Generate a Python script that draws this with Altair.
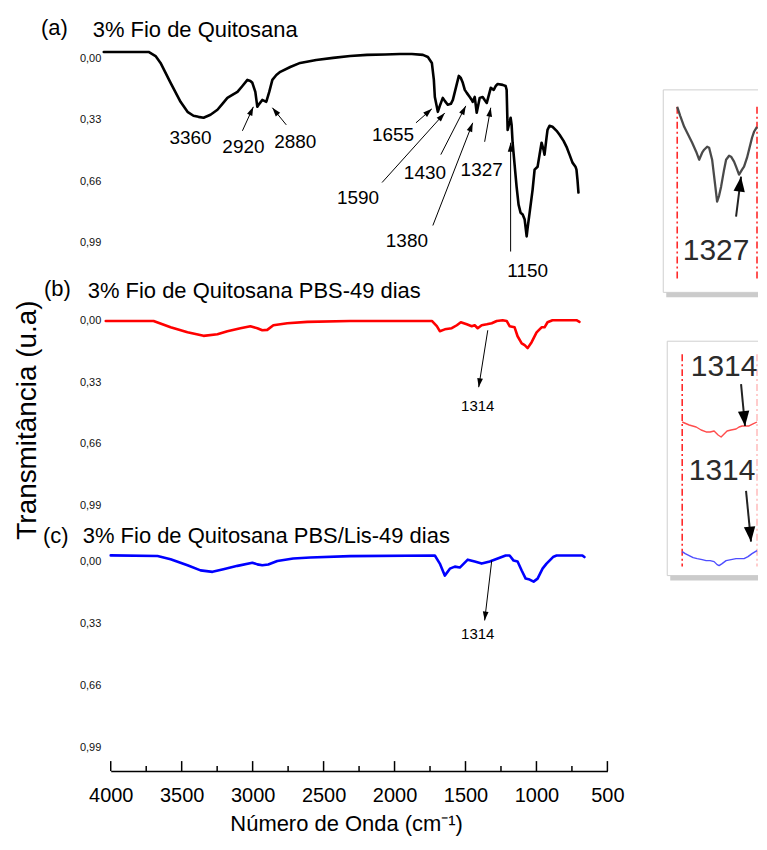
import math
import altair as alt
import pandas as pd

# ---------------- data ----------------
X_TICKS = [4000, 3500, 3000, 2500, 2000, 1500, 1000, 500]
X_MINOR = [3750, 3250, 2750, 2250, 1750, 1250, 750]
Y_TICKS = [0.0, 0.33, 0.66, 0.99]

# (a) 3% Fio de Quitosana
a_wn = [4049, 3733, 3684, 3649, 3578, 3508, 3459, 3417, 3382, 3346,
        3297, 3248, 3213, 3178, 3143, 3107, 3072, 3037, 3016, 3002,
        2981, 2967, 2953, 2932, 2918, 2904, 2883, 2861, 2833, 2805,
        2735, 2665, 2552, 2433, 2313, 2194, 2067, 1962, 1878, 1800,
        1765, 1737, 1723, 1716, 1702, 1695, 1681, 1660, 1646, 1625,
        1603, 1589, 1568, 1547, 1533, 1519, 1505, 1491, 1470, 1456,
        1449, 1435, 1421, 1400, 1379, 1365, 1350, 1322, 1301, 1287,
        1273, 1238, 1217, 1210, 1203, 1189, 1182, 1175, 1168, 1154,
        1140, 1126, 1112, 1097, 1083, 1069, 1062, 1048, 1027, 1013,
        992, 978, 964, 950, 943, 929, 922, 908, 887, 858,
        837, 809, 788, 767, 746, 725, 718, 711, 704]
a_tr = [-0.034, -0.034, -0.012, 0.025, 0.132, 0.234, 0.288, 0.309, 0.315, 0.320,
        0.304, 0.277, 0.245, 0.213, 0.197, 0.181, 0.149, 0.116, 0.122, 0.132,
        0.181, 0.261, 0.245, 0.224, 0.229, 0.234, 0.181, 0.116, 0.090, 0.073,
        0.047, 0.025, 0.009, -0.002, -0.012, -0.018, -0.020, -0.023, -0.023, -0.018,
        -0.007, 0.025, 0.116, 0.208, 0.261, 0.288, 0.256, 0.213, 0.229, 0.250,
        0.245, 0.224, 0.159, 0.095, 0.106, 0.132, 0.170, 0.186, 0.208, 0.224,
        0.234, 0.208, 0.293, 0.213, 0.208, 0.224, 0.240, 0.159, 0.170, 0.149,
        0.138, 0.143, 0.149, 0.170, 0.385, 0.342, 0.320, 0.358, 0.454, 0.572,
        0.690, 0.787, 0.830, 0.840, 0.867, 0.958, 0.910, 0.830, 0.706, 0.599,
        0.583, 0.518, 0.454, 0.492, 0.518, 0.427, 0.385, 0.363, 0.368, 0.390,
        0.411, 0.444, 0.476, 0.518, 0.561, 0.583, 0.599, 0.653, 0.722]

a_lab = ["3360", "2920", "2880", "1655", "1590", "1430", "1380", "1327", "1150"]
a_lab_wn = [3438, 3065, 2700, 2011, 2257, 1786, 1913, 1386, 1062]
a_lab_tr = [0.427, 0.476, 0.449, 0.411, 0.749, 0.615, 0.985, 0.599, 1.146]
a_from_wn = [3072, 2763, 1849, 2088, 1674, 1730, 1365, 1182]
a_from_tr = [0.390, 0.358, 0.347, 0.668, 0.518, 0.899, 0.449, 1.039]
a_to_wn = [2995, 2861, 1737, 1646, 1498, 1449, 1322, 1182]
a_to_tr = [0.261, 0.266, 0.272, 0.294, 0.256, 0.347, 0.266, 0.454]

# (b) 3% Fio de Quitosana PBS-49 dias
b_wn = [4035, 3698, 3578, 3459, 3346, 3248, 3178, 3086, 3016, 2967,
        2932, 2897, 2854, 2756, 2615, 2313, 1737, 1702, 1681, 1646,
        1597, 1561, 1533, 1491, 1456, 1435, 1414, 1386, 1350, 1315,
        1280, 1238, 1210, 1189, 1154, 1133, 1104, 1083, 1062, 1034,
        999, 964, 943, 922, 887, 718, 697]
b_tr = [0.0, 0.0, 0.034, 0.061, 0.080, 0.071, 0.055, 0.039, 0.028, 0.039,
        0.050, 0.048, 0.023, 0.012, 0.005, 0.0, 0.0, 0.028, 0.055, 0.045,
        0.039, 0.023, 0.007, 0.018, 0.028, 0.023, 0.039, 0.023, 0.018, 0.012,
        0.0, -0.004, 0.0, 0.028, 0.034, 0.082, 0.120, 0.130, 0.146, 0.114,
        0.061, 0.034, 0.034, 0.007, -0.004, -0.004, 0.005]
b_lab = ["1314"]
b_lab_wn = [1414]
b_lab_tr = [0.457]
b_from_wn = [1343]
b_from_tr = [0.050]
b_to_wn = [1407]
b_to_tr = [0.356]

# (c) 3% Fio de Quitosana PBS/Lis-49 dias
c_wn = [4000, 3670, 3578, 3459, 3367, 3283, 3206, 3107, 3002, 2967,
        2932, 2890, 2826, 2714, 2594, 2313, 1716, 1681, 1646, 1610,
        1575, 1540, 1484, 1435, 1386, 1329, 1273, 1217, 1189, 1161,
        1133, 1104, 1076, 1048, 1020, 992, 957, 929, 908, 880,
        858, 676, 662]
c_tr = [-0.035, -0.032, -0.014, 0.018, 0.045, 0.053, 0.039, 0.021, 0.004, 0.013,
        0.018, 0.014, -0.005, -0.018, -0.024, -0.031, -0.034, 0.009, 0.073, 0.036,
        0.025, 0.030, -0.012, -0.002, 0.009, -0.002, -0.018, -0.034, -0.034, -0.007,
        -0.002, 0.046, 0.089, 0.094, 0.105, 0.089, 0.036, 0.009, -0.007, -0.028,
        -0.034, -0.034, -0.026]
c_lab = ["1314"]
c_lab_wn = [1414]
c_lab_tr = [0.387]
c_from_wn = [1315]
c_from_tr = [-0.007]
c_to_wn = [1365]
c_to_tr = [0.312]

# insets (zoomed pictures on the right), in inset units
ins_frame_x1 = [554, 558]
ins_frame_x2 = [649, 649]
ins_frame_y1 = [50, 302]
ins_frame_y2 = [253, 537]

ins_grey_x = [568, 571, 575, 579, 583, 587, 590, 593, 595, 598, 600, 603, 606, 608, 610,
              612, 615, 617, 620, 622, 625, 627, 630, 633, 635, 638, 640, 643, 645, 648]
ins_grey_y = [67, 76, 87, 95, 103, 112, 120, 113, 110, 107, 108, 120, 145, 162, 156,
              147, 130, 120, 116, 117, 122, 127, 135, 130, 127, 118, 110, 98, 92, 87]
ins_red_x = [573, 580, 587, 592, 597, 601, 605, 609, 612, 615, 618, 622, 627, 630, 633,
             637, 640, 644, 648]
ins_red_y = [383, 386, 388, 391, 393, 393, 392, 396, 398, 395, 392, 391, 390, 388,
             387, 387, 387, 385, 383]
ins_blue_x = [573, 576, 580, 584, 588, 593, 597, 601, 605, 608, 610, 613, 617, 622, 627,
              631, 635, 639, 643, 648]
ins_blue_y = [513, 515, 517, 519, 520, 521, 522, 522, 523, 526, 527, 525, 522, 521,
              520, 520, 520, 518, 515, 512]
ins_dash_x = [568, 648, 573, 648]
ins_dash_y1 = [67, 67, 315, 315]
ins_dash_y2 = [242, 242, 528, 528]
ins_dash_op = [1.0, 1.0, 1.0, 0.3]
ins_txt = ["1327", "1314", "1314"]
ins_txt_x = [607, 615, 613]
ins_txt_y = [212, 328, 432]
ins_from_x = [627, 632, 637]
ins_from_y = [177, 345, 452]
ins_to_x = [632, 636, 642]
ins_to_y = [137, 387, 503]

# ---------------- layout / style ----------------
FONT = "Liberation Sans"
PW = 498
X_DOMAIN = [4000, 500]
A_H, A_DOM = 245, [-0.0981, 1.2155]
B_H, B_DOM = 245, [-0.1968, 1.1169]
C_H, C_DOM = 243, [-0.1771, 1.1154]
ARROW = "M0,0 L-0.32,1 L0.32,1 Z"
BIG_ARROW = "M0,0 L-0.38,1 L0.38,1 Z"


def head_angles(fx, fy, tx, ty, kx, ky):
    out = []
    for x0, y0, x1, y1 in zip(fx, fy, tx, ty):
        dx = (x1 - x0) * kx
        dy = (y1 - y0) * ky
        out.append(math.degrees(math.atan2(dx, -dy)) % 360)
    return out


def y_axis():
    return alt.Axis(values=Y_TICKS,
                    labelExpr="replace(format(datum.value, '.2f'), '.', ',')",
                    ticks=False, domain=False, grid=False, labelFontSize=11,
                    labelPadding=10, labelColor="#111", title=None)


def x_axis():
    return alt.Axis(values=X_TICKS, format="d", ticks=False, domain=True,
                    domainColor="#000", domainWidth=1.5, labelFontSize=20,
                    labelPadding=15, labelFlush=False, labelColor="#000",
                    grid=False, title="Número de Onda (cm⁻¹)", titleFontSize=22,
                    titleFontWeight="normal", titleColor="#000", titlePadding=8,
                    titleX=236)


def xenc(field, xs, show_x, first=False):
    if first:
        return alt.X(field, scale=xs, axis=x_axis() if show_x else None)
    if show_x:
        return alt.X(field, scale=xs)
    return alt.X(field, scale=xs, axis=None)


def panel(wn, tr, color, dom, h, lab, lab_wn, lab_tr, lab_size,
          fwn, ftr, twn, ttr, letter, title, tpos, show_x=False, extra=None):
    xs = alt.Scale(domain=X_DOMAIN, nice=False, zero=False)
    ys = alt.Scale(domain=dom, reverse=True, nice=False, zero=False)
    line_df = pd.DataFrame({"wn": wn, "tr": tr, "i": list(range(len(wn)))})
    line = alt.Chart(line_df).mark_line(
        color=color, strokeWidth=2.6, strokeJoin="round", strokeCap="round"
    ).encode(
        x=xenc("wn:Q", xs, show_x, first=True),
        y=alt.Y("tr:Q", scale=ys, axis=y_axis()),
        order="i:Q",
    )
    kx = -PW / 3500.0
    ky = h / (dom[1] - dom[0])
    arr_df = pd.DataFrame({"fw": fwn, "ft": ftr, "tw": twn, "tt": ttr,
                           "ang": head_angles(fwn, ftr, twn, ttr, kx, ky)})
    shaft = alt.Chart(arr_df).mark_rule(color="#000", strokeWidth=1).encode(
        x=xenc("fw:Q", xs, show_x), x2="tw:Q",
        y=alt.Y("ft:Q", scale=ys), y2="tt:Q")
    heads = alt.Chart(arr_df).mark_point(
        shape=ARROW, filled=True, size=320, color="#000", opacity=1
    ).encode(
        x=xenc("tw:Q", xs, show_x),
        y=alt.Y("tt:Q", scale=ys),
        angle=alt.Angle("ang:Q", scale=None))
    lab_df = pd.DataFrame({"w": lab_wn, "t": lab_tr, "s": lab})
    labels = alt.Chart(lab_df).mark_text(
        fontSize=lab_size, color="#000", baseline="middle", align="center"
    ).encode(x=xenc("w:Q", xs, show_x),
             y=alt.Y("t:Q", scale=ys), text="s:N")
    t_df = pd.DataFrame({"s": [letter]})
    t1 = alt.Chart(t_df).mark_text(
        fontSize=22, align="left", baseline="middle", color="#000"
    ).encode(x=alt.value(tpos[0]), y=alt.value(tpos[1]), text="s:N")
    t2_df = pd.DataFrame({"s": [title]})
    t2 = alt.Chart(t2_df).mark_text(
        fontSize=22, align="left", baseline="middle", color="#000"
    ).encode(x=alt.value(tpos[2]), y=alt.value(tpos[3]), text="s:N")
    layers = [line, shaft, heads, labels, t1, t2]
    if extra:
        layers += extra
    return alt.layer(*layers)


# ---------------- insets (own scales, drawn at the right of panel a) ----------------
ixs = alt.Scale(domain=[0, PW], nice=False, zero=False)
iys = alt.Scale(domain=[0, A_H], reverse=True, nice=False, zero=False)
fr = pd.DataFrame({"x1": ins_frame_x1, "x2": ins_frame_x2,
                   "y1": ins_frame_y1, "y2": ins_frame_y2})
fr_sh = pd.DataFrame({"x1": [v + 3 for v in ins_frame_x1], "x2": ins_frame_x2,
                      "y1": [v + 4 for v in ins_frame_y1],
                      "y2": [v + 5 for v in ins_frame_y2]})
shadow = alt.Chart(fr_sh).mark_rect(fill="#8c8c8c", opacity=0.45).encode(
    x=alt.X("x1:Q", scale=ixs, axis=None), x2="x2:Q",
    y=alt.Y("y1:Q", scale=iys, axis=None), y2="y2:Q")
frame = alt.Chart(fr).mark_rect(fill="#ffffff").encode(
    x=alt.X("x1:Q", scale=ixs, axis=None), x2="x2:Q",
    y=alt.Y("y1:Q", scale=iys, axis=None), y2="y2:Q")
border_df = pd.DataFrame({
    "x1": ins_frame_x1 + ins_frame_x1 + ins_frame_x1,
    "x2": ins_frame_x1 + ins_frame_x2 + ins_frame_x2,
    "y1": ins_frame_y1 + ins_frame_y1 + ins_frame_y2,
    "y2": ins_frame_y2 + ins_frame_y1 + ins_frame_y2})
border = alt.Chart(border_df).mark_rule(color="#cfcfcf", strokeWidth=1).encode(
    x=alt.X("x1:Q", scale=ixs, axis=None), x2="x2:Q",
    y=alt.Y("y1:Q", scale=iys, axis=None), y2="y2:Q")
dash = alt.Chart(pd.DataFrame({"x": ins_dash_x, "y1": ins_dash_y1,
                               "y2": ins_dash_y2, "o": ins_dash_op})).mark_rule(
    color="#ff2a2a", strokeWidth=1.6, strokeDash=[7, 3, 2, 3]).encode(
    x=alt.X("x:Q", scale=ixs, axis=None),
    y=alt.Y("y1:Q", scale=iys, axis=None), y2="y2:Q",
    opacity=alt.Opacity("o:Q", scale=None))


def ins_line(xv, yv, color, w):
    df = pd.DataFrame({"x": xv, "y": yv, "i": list(range(len(xv)))})
    return alt.Chart(df).mark_line(color=color, strokeWidth=w, strokeJoin="round").encode(
        x=alt.X("x:Q", scale=ixs, axis=None),
        y=alt.Y("y:Q", scale=iys, axis=None), order="i:Q")


grey = ins_line(ins_grey_x, ins_grey_y, "#4a4a4a", 2.3)
red = ins_line(ins_red_x, ins_red_y, "#ff4d4d", 1.4)
blue = ins_line(ins_blue_x, ins_blue_y, "#4d4dff", 1.4)
iarr = pd.DataFrame({"fx": ins_from_x, "fy": ins_from_y, "tx": ins_to_x, "ty": ins_to_y,
                     "ang": head_angles(ins_from_x, ins_from_y, ins_to_x, ins_to_y, 1, 1)})
ishaft = alt.Chart(iarr).mark_rule(color="#222", strokeWidth=2).encode(
    x=alt.X("fx:Q", scale=ixs, axis=None), x2="tx:Q",
    y=alt.Y("fy:Q", scale=iys, axis=None), y2="ty:Q")
iheads = alt.Chart(iarr).mark_point(shape=BIG_ARROW, filled=True, size=900,
                                    color="#000", opacity=1).encode(
    x=alt.X("tx:Q", scale=ixs, axis=None), y=alt.Y("ty:Q", scale=iys, axis=None),
    angle=alt.Angle("ang:Q", scale=None))
itext = alt.Chart(pd.DataFrame({"x": ins_txt_x, "y": ins_txt_y, "s": ins_txt})).mark_text(
    fontSize=30, color="#2b2b2b", align="center", baseline="middle").encode(
    x=alt.X("x:Q", scale=ixs, axis=None), y=alt.Y("y:Q", scale=iys, axis=None),
    text="s:N")
inset = alt.layer(shadow, frame, border, dash, grey, red, blue, ishaft, iheads, itext)

# y title on panel (b)
ytitle = alt.Chart(pd.DataFrame({"s": ["Transmitância (u.a)"]})).mark_text(
    fontSize=28, angle=270, align="center", baseline="middle", color="#000"
).encode(x=alt.value(-83), y=alt.value(136), text="s:N")

# inward ticks of the bottom axis
xs_c = alt.Scale(domain=X_DOMAIN, nice=False, zero=False)
maj = alt.Chart(pd.DataFrame({"t": X_TICKS})).mark_rule(
    color="#000", strokeWidth=1.5).encode(
    x=alt.X("t:Q", scale=xs_c), y=alt.value(C_H - 10), y2=alt.value(C_H))
mnr = alt.Chart(pd.DataFrame({"t": X_MINOR})).mark_rule(
    color="#000", strokeWidth=1.5).encode(
    x=alt.X("t:Q", scale=xs_c), y=alt.value(C_H - 5), y2=alt.value(C_H))

pa_main = panel(a_wn, a_tr, "#000000", A_DOM, A_H, a_lab, a_lab_wn, a_lab_tr, 19,
                a_from_wn, a_from_tr, a_to_wn, a_to_tr,
                "(a)", "3% Fio de Quitosana", (-70, -12, -18, -10))
pa = alt.layer(pa_main, inset).resolve_scale(
    x="independent", y="independent").properties(width=PW, height=A_H)
pb = panel(b_wn, b_tr, "#ff0000", B_DOM, B_H, b_lab, b_lab_wn, b_lab_tr, 15,
           b_from_wn, b_from_tr, b_to_wn, b_to_tr,
           "(b)", "3% Fio de Quitosana PBS-49 dias", (-67, 5, -23, 7),
           extra=[ytitle]).properties(width=PW, height=B_H)
pc = panel(c_wn, c_tr, "#0000ff", C_DOM, C_H, c_lab, c_lab_wn, c_lab_tr, 15,
           c_from_wn, c_from_tr, c_to_wn, c_to_tr,
           "(c)", "3% Fio de Quitosana PBS/Lis-49 dias", (-68, 7, -28, 7),
           show_x=True, extra=[maj, mnr]).properties(width=PW, height=C_H)

chart = alt.vconcat(pa, pb, pc, spacing=0, bounds="flush").resolve_scale(
    x="independent", y="independent").properties(
    padding={"left": 6, "top": 8, "right": 0, "bottom": 0}
).configure(font=FONT).configure_view(strokeWidth=0)

chart.save("out.html", embed_options={"renderer": "svg", "actions": False})
